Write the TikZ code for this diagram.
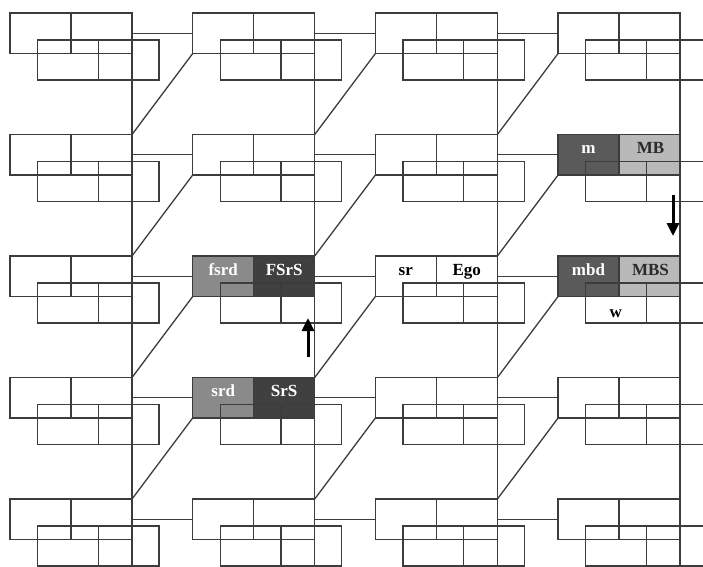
\documentclass[tikz,border=0pt]{standalone}
\usepackage{fontspec}
\setmainfont{Liberation Serif}
\usetikzlibrary{arrows.meta}
\definecolor{linec}{HTML}{3C3C3C}
\definecolor{cmed}{HTML}{8A8A8A}
\definecolor{cdark}{HTML}{404040}
\definecolor{cmid}{HTML}{5A5A5A}
\definecolor{clight}{HTML}{B9B9B9}
\definecolor{ctxt}{HTML}{2A2A2A}
\tikzset{
  ubox/.style={draw=linec, line width=1.3pt, minimum width=122pt, minimum height=40.5pt, inner sep=0pt, outer sep=0pt},
  lbox/.style={draw=linec, line width=1.3pt, minimum width=121.5pt, minimum height=40pt, inner sep=0pt, outer sep=0pt},
  conn/.style={draw=linec, line width=1.3pt},
  lab/.style={anchor=base, inner sep=0pt, font=\bfseries\fontsize{17}{17}\selectfont},
  bigarrow/.style={line width=3pt, -{Triangle[width=12pt,length=13pt]}, black}
}
\begin{document}
\begin{tikzpicture}[x=1pt,y=-1pt]
\useasboundingbox (0,0) rectangle (703,566);
\clip (0,0) rectangle (703,566);
\fill[white] (0,0) rectangle (703,566);
% fills of highlighted cells
\fill[cmed]  (192.7,256) rectangle ++(61,40.5);
\fill[cdark] (253.7,256) rectangle ++(61,40.5);
\fill[cmed]  (192.7,377.5) rectangle ++(61,40.5);
\fill[cdark] (253.7,377.5) rectangle ++(61,40.5);
\fill[cmid]  (558,134.5) rectangle ++(61,40.5);
\fill[clight] (619,134.5) rectangle ++(61,40.5);
\fill[cmid]  (558,256) rectangle ++(61,40.5);
\fill[clight] (619,256) rectangle ++(61,40.5);
% boxes
\foreach \i in {0,...,3}{
  \foreach \j in {0,...,4}{
    \pgfmathsetmacro\X{10+182.7*\i}
    \pgfmathsetmacro\Y{13+121.5*\j}
    \node[ubox] (u-\i-\j) at (\X+61,\Y+20.25) {};
    \node[lbox] (l-\i-\j) at (\X+88.25,\Y+47) {};
    \draw[conn] (u-\i-\j.north) -- (u-\i-\j.south);
    \draw[conn] (l-\i-\j.north) -- (l-\i-\j.south);
  }
  \pgfmathsetmacro\X{10+182.7*\i}
  \coordinate (bot-\i) at (\X+122,570);
  \draw[conn] (u-\i-0.north east) -- (bot-\i);
}
% horizontal connectors
\foreach \i [evaluate=\i as \k using int(\i+1)] in {0,1,2}{
  \foreach \j in {0,...,4}{
    \draw[conn] (u-\i-\j.east) -- (u-\k-\j.west);
  }
}
% diagonal connectors
\foreach \i [evaluate=\i as \k using int(\i+1)] in {0,1,2}{
  \foreach \j [evaluate=\j as \m using int(\j+1)] in {0,...,3}{
    \draw[conn] (u-\k-\j.south west) -- (u-\i-\m.north east);
  }
}
% labels
\node[lab, text=white] (t-fsrd) at (223.2,275) {fsrd};
\node[lab, text=white] (t-FSrS) at (284.2,275) {FSrS};
\node[lab, text=white] (t-srd) at (223.2,396.5) {srd};
\node[lab, text=white] (t-SrS) at (284.2,396.5) {SrS};
\node[lab, text=black] (t-sr) at (405.8,275) {sr};
\node[lab, text=black] (t-Ego) at (466.8,275) {Ego};
\node[lab, text=white] (t-m) at (588.5,153.5) {m};
\node[lab, text=ctxt] (t-MB) at (650.5,153.5) {MB};
\node[lab, text=white] (t-mbd) at (588.5,275) {mbd};
\node[lab, text=ctxt] (t-MBS) at (650.5,275) {MBS};
\node[lab, text=black] (t-w) at (615.75,317) {w};
% arrows
\coordinate (a1s) at (308,357);
\coordinate (a1e) at (308,318);
\draw[bigarrow] (a1s) -- (a1e);
\coordinate (a2s) at (673,195);
\coordinate (a2e) at (673,236);
\draw[bigarrow] (a2s) -- (a2e);
\end{tikzpicture}
\end{document}
